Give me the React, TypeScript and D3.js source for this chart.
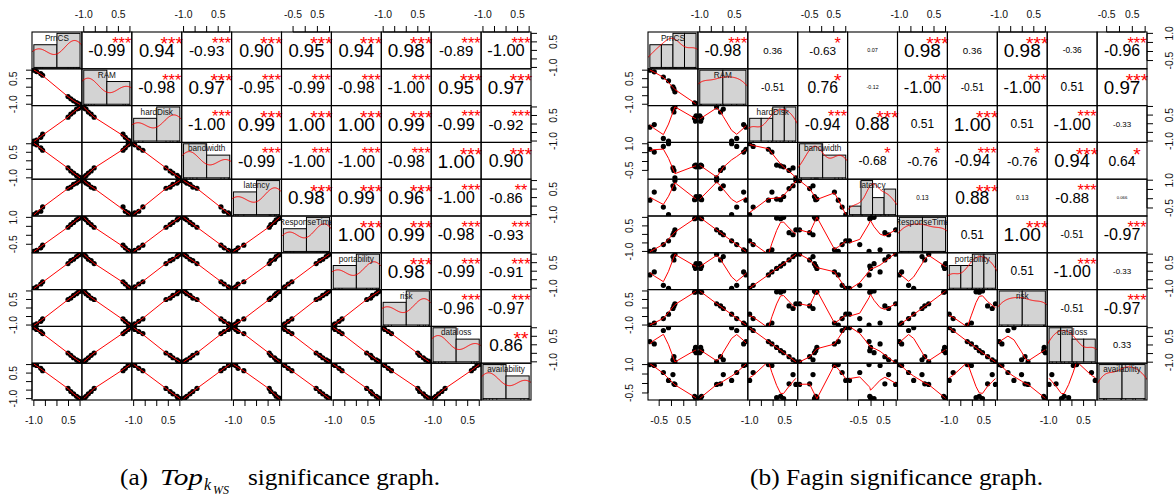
import React from "react";
import * as d3 from "d3";

// Attribute names, shared by both scatter-plot matrices
const VARIABLES = [
  "PrnCS", "RAM", "hardDisk", "bandwidth", "latency",
  "ResponseTime", "portability", "risk", "dataloss", "availability",
];

// ---------- (a) Top-k WS ranking: scaled attribute values per observation ----------
const prnCSA = [-1.0, -0.88, -0.7, -0.62, 0.48, 0.6, 0.72, 0.85, 0.94, 1.0];
const ramA = [1.0, 0.92, 0.8, 0.7, -0.55, -0.68, -0.8, -0.9, -0.97, -1.0];
const hardDiskA = [-1.0, -0.95, -0.78, -0.6, 0.4, 0.58, 0.7, 0.88, 0.92, 1.0];
const bandwidthA = [1.0, 0.94, 0.76, 0.62, -0.42, -0.6, -0.72, -0.86, -0.94, -1.0];
const latencyA = [-1.0, -0.9, -0.8, -0.55, 0.55, 0.62, 0.78, 0.85, 0.96, 1.0];
const responseTimeA = [-0.9, -0.84, -0.7, -0.55, 0.45, 0.6, 0.72, 0.86, 0.94, 1.0];
const portabilityA = [-1.0, -0.92, -0.75, -0.62, 0.45, 0.62, 0.7, 0.86, 0.95, 1.0];
const riskA = [-1.0, -0.93, -0.78, -0.64, 0.5, 0.58, 0.74, 0.84, 0.96, 1.0];
const datalossA = [1.0, 0.9, 0.78, 0.66, -0.48, -0.62, -0.76, -0.88, -0.95, -1.0];
const availabilityA = [1.0, 0.95, 0.78, 0.64, -0.4, -0.58, -0.72, -0.86, -0.96, -1.0];

// Pearson coefficients, upper triangle, row by row
const corrA = [
  [-0.99, 0.94, -0.93, 0.9, 0.95, 0.94, 0.98, -0.89, -1.0],
  [-0.98, 0.97, -0.95, -0.99, -0.98, -1.0, 0.95, 0.97],
  [-1.0, 0.99, 1.0, 1.0, 0.99, -0.99, -0.92],
  [-0.99, -1.0, -1.0, -0.98, 1.0, 0.9],
  [0.98, 0.99, 0.96, -1.0, -0.86],
  [1.0, 0.99, -0.98, -0.93],
  [0.98, -0.99, -0.91],
  [-0.96, -0.97],
  [0.86],
];
const sigA = [
  ["***", "***", "***", "***", "***", "***", "***", "***", "***"],
  ["***", "***", "***", "***", "***", "***", "***", "***"],
  ["***", "***", "***", "***", "***", "***", "***"],
  ["***", "***", "***", "***", "***", "***"],
  ["***", "***", "***", "***", "**"],
  ["***", "***", "***", "***"],
  ["***", "***", "***"],
  ["***", "***"],
  ["**"],
];

// ---------- (b) Fagin ranking ----------
const prnCSB = [-0.88, -0.7, -0.33, -0.12, 0.06, 0.1, 0.14, 0.94, 0.98, 1.0];
const ramB = [1.0, 0.9, 0.6, 0.38, 0.02, -0.1, -0.27, -0.92, -0.96, -1.0];
const hardDiskB = [-0.2, -0.05, -0.85, -1.0, 0.85, 0.68, 0.97, 0.32, 0.15, 0.45];
const bandwidthB = [0.69, 0.53, 0.85, 1.0, -0.36, -0.5, -0.92, -0.25, -0.2, -0.3];
const latencyB = [-0.08, 0.36, -0.45, -0.86, 0.7, 0.55, 0.98, -0.05, -0.02, 0.12];
const responseTimeB = [-1.0, -0.9, -0.6, -0.38, -0.02, 0.1, 0.27, 0.92, 0.96, 1.0];
const portabilityB = [-0.22, -0.04, -0.83, -1.0, 0.86, 0.66, 1.0, 0.3, 0.16, 0.44];
const riskB = [-1.0, -0.88, -0.62, -0.36, -0.03, 0.12, 0.25, 0.93, 0.95, 1.0];
const datalossB = [0.2, 0.06, 0.84, 1.0, -0.86, -0.68, -0.98, -0.33, -0.14, -0.45];
const availabilityB = [1.0, 0.95, 0.58, 0.16, 0.47, -0.02, -0.05, -0.68, -0.75, -0.8];

const corrB = [
  [-0.98, 0.36, -0.63, 0.07, 0.98, 0.36, 0.98, -0.36, -0.96],
  [-0.51, 0.76, -0.12, -1.0, -0.51, -1.0, 0.51, 0.97],
  [-0.94, 0.88, 0.51, 1.0, 0.51, -1.0, -0.33],
  [-0.68, -0.76, -0.94, -0.76, 0.94, 0.64],
  [0.13, 0.88, 0.13, -0.88, 0.066],
  [0.51, 1.0, -0.51, -0.97],
  [0.51, -1.0, -0.33],
  [-0.51, -0.97],
  [0.33],
];
const sigB = [
  ["***", "", "*", "", "***", "", "***", "", "***"],
  ["", "*", "", "***", "", "***", "", "***"],
  ["***", "***", "", "***", "", "***", ""],
  ["*", "*", "***", "*", "***", "*"],
  ["", "***", "", "***", ""],
  ["", "***", "", "***"],
  ["", "***", ""],
  ["", "***"],
  [""],
];

// Histogram breaks on the diagonal
const BREAKS_2 = [-1, 0, 1];
const BREAKS_4 = [-1, -0.5, 0, 0.5, 1];
const breaksA = VARIABLES.map(() => BREAKS_2);
const breaksB = [BREAKS_4, BREAKS_2, BREAKS_4, BREAKS_2, BREAKS_4, BREAKS_2, BREAKS_4, BREAKS_2, BREAKS_4, BREAKS_2];

// Axis tick labels that survive overlap (horizontal axes / vertical axes)
const hLabelsA = ["-1.0 0.5", "-1.0 0.5", "-1.0 0.5", "-1.0 0.5", "-1.0 0.5", "-0.5 0.5", "-1.0 0.5", "-1.0 0.5", "-1.0 0.5", "-1.0 0.5"];
const vLabelsA = ["-1.0 0.5", "-1.0 0.5", "-1.0 0.5", "-1.0 0.5", "-1.0 0.5", "-0.5 1.0", "-1.0 0.5", "-1.0 0.5", "-1.0 0.5", "-1.0 0.5"];
const hLabelsB = ["-0.5 0.5", "-1.0 0.5", "-1.0 0.5", "-0.5 0.5", "-0.5 0.5", "-1.0 0.5", "-1.0 0.5", "-1.0 0.5", "-1.0 0.5", "-0.5 0.5"];
const vLabelsB = ["-0.5 1.0", "-1.0 0.5", "-1.0 0.5", "-0.5 1.0", "-0.5 1.0", "-1.0 0.5", "-1.0 0.5", "-1.0 0.5", "-1.0 0.5", "-0.5 1.0"];

const seriesA = [prnCSA, ramA, hardDiskA, bandwidthA, latencyA, responseTimeA, portabilityA, riskA, datalossA, availabilityA];
const seriesB = [prnCSB, ramB, hardDiskB, bandwidthB, latencyB, responseTimeB, portabilityB, riskB, datalossB, availabilityB];

const SANS = "'Liberation Sans', Arial, Helvetica, sans-serif";
const SERIF = "'Liberation Serif', 'DejaVu Serif', serif";
const CELL_W = 49.9;
const CELL_H = 36.8;
const TICK = 6;
const AXIS_FS = 10.4;

function pad4(lo: number, hi: number): [number, number] {
  const p = (hi - lo) * 0.04;
  return [lo - p, hi + p];
}

function bwNrd0(v: number[]): number {
  const s = [...v].sort((a, b) => a - b);
  const sd = d3.deviation(s) as number;
  const iqr = (d3.quantile(s, 0.75) as number) - (d3.quantile(s, 0.25) as number);
  let lo = Math.min(sd, iqr / 1.34);
  if (!(lo > 0)) lo = sd || 1;
  return 0.9 * lo * Math.pow(v.length, -0.2);
}

// Locally weighted scatterplot smoothing (Cleveland), span 2/3, 3 robustness passes
function lowess(xIn: number[], yIn: number[], f = 2 / 3, iter = 3): [number, number][] {
  const n = xIn.length;
  const ord = d3.range(n).sort((a, b) => xIn[a] - xIn[b]);
  const x = ord.map((k) => xIn[k]);
  const y = ord.map((k) => yIn[k]);
  const ns = Math.max(2, Math.min(n, Math.floor(f * n + 1e-7)));
  const span = x[n - 1] - x[0];
  let rw = new Array(n).fill(1);
  const ys = new Array(n).fill(0);
  for (let it = 0; it <= iter; it++) {
    let nleft = 0;
    let nright = ns - 1;
    for (let i = 0; i < n; i++) {
      while (nright < n - 1 && x[i] - x[nleft] > x[nright + 1] - x[i]) {
        nleft++;
        nright++;
      }
      const h = Math.max(x[i] - x[nleft], x[nright] - x[i]);
      const h9 = 0.999 * h;
      const h1 = 0.001 * h;
      const w = new Array(n).fill(0);
      let a = 0;
      let nrt = nleft;
      for (let j = nleft; j < n; j++) {
        const r = Math.abs(x[j] - x[i]);
        if (r <= h9) {
          w[j] = (r <= h1 ? 1 : Math.pow(1 - Math.pow(r / h, 3), 3)) * rw[j];
          a += w[j];
          nrt = j;
        } else if (x[j] > x[i]) break;
      }
      if (a <= 0) {
        ys[i] = y[i];
        continue;
      }
      for (let j = nleft; j <= nrt; j++) w[j] /= a;
      if (h > 0) {
        let a2 = 0;
        for (let j = nleft; j <= nrt; j++) a2 += w[j] * x[j];
        let b = x[i] - a2;
        let c = 0;
        for (let j = nleft; j <= nrt; j++) c += w[j] * (x[j] - a2) * (x[j] - a2);
        if (Math.sqrt(c) > 0.001 * span) {
          b /= c;
          for (let j = nleft; j <= nrt; j++) w[j] *= b * (x[j] - a2) + 1;
        }
      }
      let s = 0;
      for (let j = nleft; j <= nrt; j++) s += w[j] * y[j];
      ys[i] = s;
    }
    if (it === iter) break;
    const absr = y.map((v, k) => Math.abs(v - ys[k]));
    const cmad = 6 * (d3.median(absr) as number);
    if (cmad < 1e-7 * (d3.mean(y.map(Math.abs)) as number)) break;
    const c9 = 0.999 * cmad;
    const c1 = 0.001 * cmad;
    rw = absr.map((r) => (r <= c1 ? 1 : r <= c9 ? Math.pow(1 - (r / cmad) * (r / cmad), 2) : 0));
  }
  return x.map((v, k) => [v, ys[k]] as [number, number]);
}

function fmtR(r: number): string {
  if (Math.abs(r) >= 0.1) return r.toFixed(2);
  let s = r.toPrecision(2);
  const dec = s.split(".")[1] || "";
  if (dec.length > 2 && s.endsWith("0")) s = s.slice(0, -1);
  return s;
}

// Advance widths (em) of the glyphs used in the coefficients
function emWidth(s: string): number {
  let w = 0;
  for (const c of s) w += c === "." ? 0.278 : c === "-" ? 0.333 : 0.556;
  return w;
}

function ticksOf([lo, hi]: [number, number]): number[] {
  return d3.range(Math.ceil(lo / 0.5 - 1e-9), Math.floor(hi / 0.5 + 1e-9) + 1).map((k) => k * 0.5);
}

type PairsProps = {
  id: string;
  x0: number;
  y0: number;
  series: number[][];
  corr: number[][];
  sig: string[][];
  breaks: number[][];
  hLabels: string[];
  vLabels: string[];
};

function Pairs({ id, x0, y0, series, corr, sig, breaks, hLabels, vLabels }: PairsProps) {
  const n = series.length;
  const doms = series.map((v) => pad4(d3.min(v) as number, d3.max(v) as number));
  const clips: React.ReactNode[] = [];
  const cells: React.ReactNode[] = [];
  const axes: React.ReactNode[] = [];
  const line = d3.line();

  for (let i = 0; i < n; i++) {
    for (let j = 0; j < n; j++) {
      const L = x0 + j * CELL_W;
      const T = y0 + i * CELL_H;
      const R = L + CELL_W;
      const B = T + CELL_H;
      const cid = `clip-${id}-${i}-${j}`;
      clips.push(
        <clipPath id={cid} key={cid}>
          <rect x={L} y={T} width={CELL_W} height={CELL_H} />
        </clipPath>
      );
      const key = `${id}-${i}-${j}`;

      if (i === j) {
        const vals = series[i];
        const br = breaks[i];
        const counts = br.slice(1).map(
          (b, k) => vals.filter((v) => (k === 0 ? v >= br[0] : v > br[k]) && v <= b).length
        );
        const dens = counts.map((c, k) => c / (vals.length * (br[k + 1] - br[k])));
        const maxD = d3.max(dens) as number;
        const hx = d3.scaleLinear().domain(pad4(br[0], br[br.length - 1])).range([L, R]);
        const hy = d3.scaleLinear().domain([-0.04 * maxD, 1.04 * maxD]).range([B, T]);
        const bw = bwNrd0(vals);
        const lo = (d3.min(vals) as number) - 3 * bw;
        const hi = (d3.max(vals) as number) + 3 * bw;
        const curve = d3.range(240).map((k) => {
          const xv = lo + ((hi - lo) * k) / 239;
          const d =
            (d3.sum(vals, (v) => Math.exp(-0.5 * ((xv - v) / bw) ** 2)) as number) /
            (vals.length * bw * Math.sqrt(2 * Math.PI));
          return [hx(xv), hy(d)] as [number, number];
        });
        cells.push(
          <g key={key} clipPath={`url(#${cid})`}>
            {dens.map((d, k) => (
              <rect
                key={k}
                x={hx(br[k])}
                y={hy(d)}
                width={hx(br[k + 1]) - hx(br[k])}
                height={hy(0) - hy(d)}
                fill="#D3D3D3"
                stroke="#000"
                strokeWidth={1}
              />
            ))}
            <path d={line(curve) || ""} fill="none" stroke="#FF0000" strokeWidth={1} />
            {vals.map((v, k) => (
              <line key={`r${k}`} x1={hx(v)} x2={hx(v)} y1={B} y2={B - 0.03 * CELL_H * 1.4} stroke="#000" strokeWidth={0.8} />
            ))}
            <text
              x={(L + R) / 2}
              y={T + 0.167 * CELL_H + 0.358 * 8.2}
              fontSize={8.2}
              fontFamily={SANS}
              textAnchor="middle"
              fill="#111"
            >
              {VARIABLES[i]}
            </text>
          </g>
        );
      } else if (i < j) {
        const r = corr[i][j - i - 1];
        const s = sig[i][j - i - 1];
        const txt = fmtR(r);
        const base = (CELL_W * 0.75) / emWidth(txt);
        const fs = (base * (Math.abs(r) + 0.3)) / 1.3;
        cells.push(
          <g key={key} fontFamily={SANS}>
            <text x={L + 0.5 * CELL_W} y={T + 0.5 * CELL_H + 0.358 * fs} fontSize={fs} textAnchor="middle" fill="#000">
              {txt}
            </text>
            {s ? (
              <text x={L + 0.8 * CELL_W} y={B - 0.8 * CELL_H + 0.57 * base} fontSize={base} textAnchor="middle" fill="#FF0000">
                {s}
              </text>
            ) : null}
          </g>
        );
      } else {
        const xs = d3.scaleLinear().domain(doms[j]).range([L, R]);
        const ys = d3.scaleLinear().domain(doms[i]).range([B, T]);
        const sm = lowess(series[j], series[i]).map(([a, b]) => [xs(a), ys(b)] as [number, number]);
        cells.push(
          <g key={key} clipPath={`url(#${cid})`}>
            {series[j].map((v, k) => (
              <circle key={k} cx={xs(v)} cy={ys(series[i][k])} r={2.6} fill="#000" />
            ))}
            <path d={line(sm) || ""} fill="none" stroke="#FF0000" strokeWidth={1} />
          </g>
        );
      }
      cells.push(
        <rect key={`${key}-box`} x={L} y={T} width={CELL_W} height={CELL_H} fill="none" stroke="#000" strokeWidth={1.1} />
      );
    }
  }

  // Outer axes: horizontal ones alternate top/bottom, vertical ones right/left
  for (let j = 0; j < n; j++) {
    const L = x0 + j * CELL_W;
    const sc = d3.scaleLinear().domain(doms[j]).range([L, L + CELL_W]);
    const tk = ticksOf(doms[j]);
    const shown = hLabels[j].split(" ");
    const top = j % 2 === 1;
    const yb = top ? y0 : y0 + n * CELL_H;
    const dir = top ? -1 : 1;
    axes.push(
      <g key={`hx-${j}`} fontFamily={SANS} fontSize={AXIS_FS} fill="#111">
        <line x1={sc(tk[0])} x2={sc(tk[tk.length - 1])} y1={yb} y2={yb} stroke="#000" />
        {tk.map((t) => (
          <line key={t} x1={sc(t)} x2={sc(t)} y1={yb} y2={yb + dir * TICK} stroke="#000" />
        ))}
        {tk
          .filter((t) => shown.includes(t.toFixed(1)))
          .map((t) => (
            <text key={`l${t}`} x={sc(t)} y={top ? yb - 14 : yb + 24} textAnchor="middle">
              {t.toFixed(1)}
            </text>
          ))}
      </g>
    );
  }
  for (let i = 0; i < n; i++) {
    const T = y0 + i * CELL_H;
    const sc = d3.scaleLinear().domain(doms[i]).range([T + CELL_H, T]);
    const tk = ticksOf(doms[i]);
    const shown = vLabels[i].split(" ");
    const left = i % 2 === 1;
    const xb = left ? x0 : x0 + n * CELL_W;
    const dir = left ? -1 : 1;
    axes.push(
      <g key={`vx-${i}`} fontFamily={SANS} fontSize={AXIS_FS} fill="#111">
        <line x1={xb} x2={xb} y1={sc(tk[0])} y2={sc(tk[tk.length - 1])} stroke="#000" />
        {tk.map((t) => (
          <line key={t} x1={xb} x2={xb + dir * TICK} y1={sc(t)} y2={sc(t)} stroke="#000" />
        ))}
        {tk
          .filter((t) => shown.includes(t.toFixed(1)))
          .map((t) => {
            const bx = left ? xb - 15 : xb + 26;
            return (
              <text key={`l${t}`} x={bx} y={sc(t)} textAnchor="middle" transform={`rotate(-90 ${bx} ${sc(t)})`}>
                {t.toFixed(1)}
              </text>
            );
          })}
      </g>
    );
  }

  return (
    <g>
      <defs>{clips}</defs>
      {cells}
      {axes}
    </g>
  );
}

export default function App() {
  return (
    <svg
      width={1176}
      height={496}
      viewBox="0 0 1176 496"
      style={{ position: "absolute", left: 0, top: 0, background: "#fff" }}
    >
      <rect width={1176} height={496} fill="#fff" />
      <Pairs id="a" x0={32} y0={32} series={seriesA} corr={corrA} sig={sigA} breaks={breaksA} hLabels={hLabelsA} vLabels={vLabelsA} />
      <Pairs id="b" x0={648} y0={32} series={seriesB} corr={corrB} sig={sigB} breaks={breaksB} hLabels={hLabelsB} vLabels={vLabelsB} />

      <g fontFamily={SERIF} fill="#000">
        <text x={120} y={485} fontSize={23} textLength={28} lengthAdjust="spacingAndGlyphs">(a)</text>
        <text x={160} y={485} fontSize={23} fontStyle="italic" textLength={43} lengthAdjust="spacingAndGlyphs">Top</text>
        <text x={204} y={490} fontSize={16} fontStyle="italic">k</text>
        <text x={213} y={494} fontSize={12} fontStyle="italic">WS</text>
        <text x={248} y={485} fontSize={23} textLength={192} lengthAdjust="spacingAndGlyphs">significance graph.</text>
        <text x={750} y={485} fontSize={23} textLength={293} lengthAdjust="spacingAndGlyphs">(b) Fagin significance graph.</text>
      </g>
    </svg>
  );
}
